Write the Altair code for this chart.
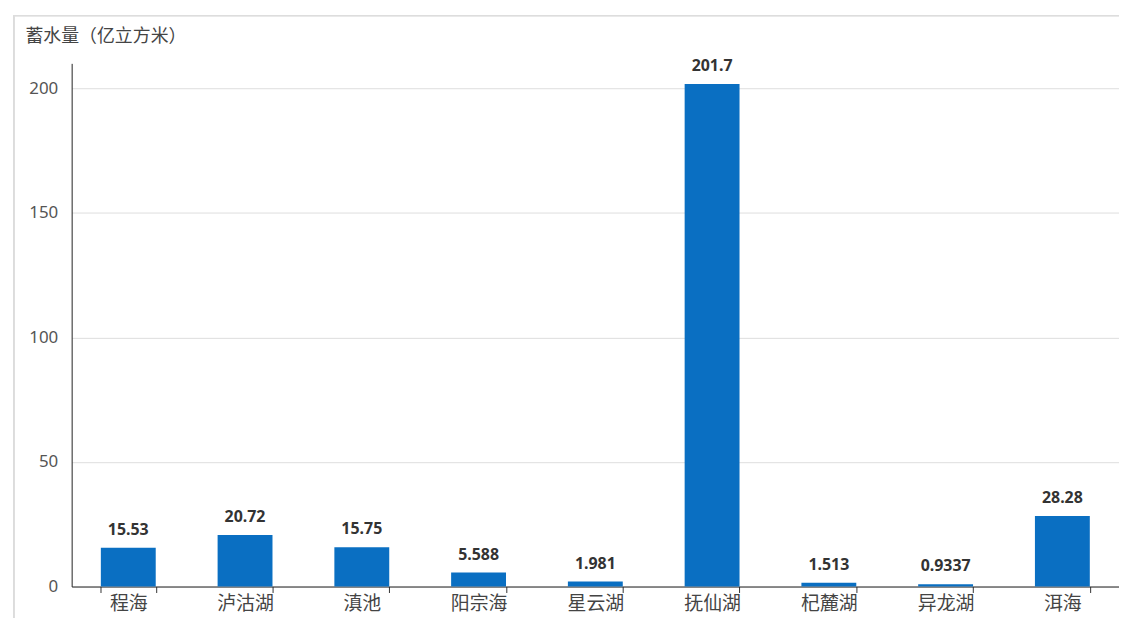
import pandas as pd
import altair as alt

lakes = ["程海", "泸沽湖", "滇池", "阳宗海", "星云湖", "抚仙湖", "杞麓湖", "异龙湖", "洱海"]
storage = [15.53, 20.72, 15.75, 5.588, 1.981, 201.7, 1.513, 0.9337, 28.28]
labels = ["15.53", "20.72", "15.75", "5.588", "1.981", "201.7", "1.513", "0.9337", "28.28"]

df = pd.DataFrame({"lake": lakes, "storage": storage, "label": labels})

font = "Noto Sans CJK SC"

base = alt.Chart(df).encode(
    x=alt.X("lake:N", sort=lakes, scale=alt.Scale(paddingInner=0.53, paddingOuter=0.25),
            axis=alt.Axis(title=None, labelAngle=0, labelFontSize=19, labelColor="#444",
                          labelFont=font, tickBand="extent", tickColor="#333", tickSize=6,
                          domainColor="#222", labelPadding=2)),
    y=alt.Y("storage:Q", scale=alt.Scale(domain=[0, 210], nice=False),
            axis=alt.Axis(values=[0, 50, 100, 150, 200], title="蓄水量（亿立方米）",
                          titleAngle=0, titleX=-47, titleY=-27, titleAlign="left",
                          titleBaseline="middle", titleFont=font, titleFontSize=18,
                          titleFontWeight="normal", titleColor="#444",
                          labelFontSize=17, labelColor="#555", labelPadding=14,
                          ticks=False, domainColor="#222", gridColor="#dedede")),
)

bars = base.mark_bar(color="#0a6fc2")
text = base.mark_text(dy=-18, fontSize=16, fontWeight="bold", color="#333").encode(text="label:N")

border_top = alt.Chart(df).mark_rule(color="#ddd").encode(
    x=alt.value(-58), x2=alt.value(1053), y=alt.value(-48))
border_left = alt.Chart(df).mark_rule(color="#ddd").encode(
    x=alt.value(-58), y=alt.value(-48), y2=alt.value(560))

chart = (border_top + border_left + bars + text).properties(
    width=1053, height=526,
    autosize=alt.AutoSizeParams(type="none"),
    padding={"left": 64, "top": 54, "right": 0, "bottom": 30},
).configure(font="Noto Sans").configure_view(stroke=None)

chart.save("out.html", embed_options={"renderer": "svg", "actions": False})
